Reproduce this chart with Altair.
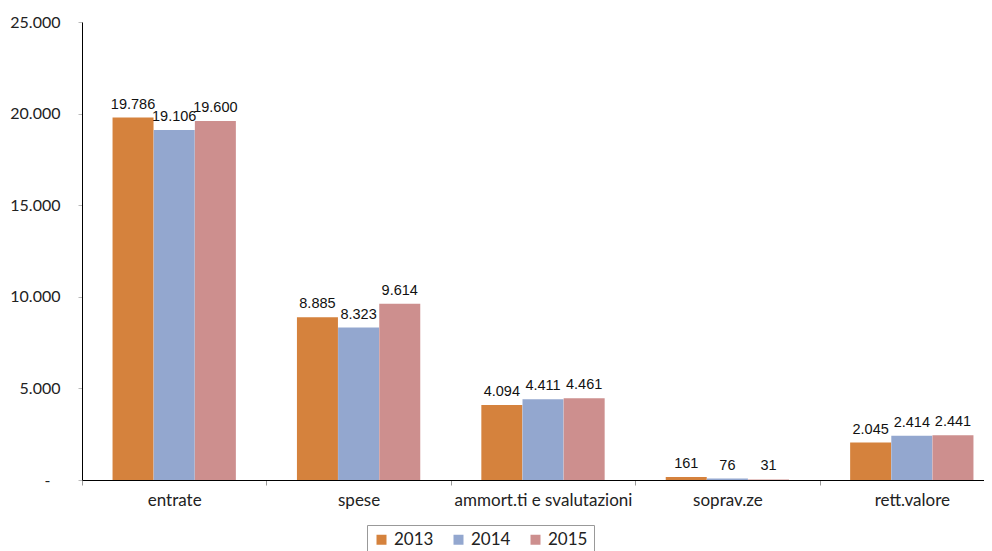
import altair as alt
import pandas as pd

categories = ["entrate", "spese", "ammort.ti e svalutazioni", "soprav.ze", "rett.valore"]
years = ["2013", "2014", "2015"]
v2013 = [19786, 8885, 4094, 161, 2045]
v2014 = [19106, 8323, 4411, 76, 2414]
v2015 = [19600, 9614, 4461, 31, 2441]
colors = ["#D5823D", "#93A7CF", "#CD8F8E"]

rows = []
for i, c in enumerate(categories):
    for y, vals in zip(years, [v2013, v2014, v2015]):
        rows.append({"cat": c, "year": y, "value": vals[i]})
df = pd.DataFrame(rows)

base = alt.Chart(df).transform_calculate(
    label="replace(format(datum.value, ','), ',', '.')"
).encode(
    x=alt.X("cat:N", sort=categories, title=None,
            scale=alt.Scale(paddingInner=0, paddingOuter=0, range=[0, 922]),
            axis=alt.Axis(labelAngle=0, tickBand="extent", domainColor="#000000",
                          tickColor="#999999", tickSize=5, labelPadding=7,
                          labelFont="Lato", labelFontSize=17, labelColor="#222222")),
    xOffset=alt.XOffset("year:N", scale=alt.Scale(paddingInner=0, paddingOuter=0.74)),
    y=alt.Y("value:Q", title=None,
            scale=alt.Scale(domain=[0, 25000], nice=False),
            axis=alt.Axis(values=[0, 5000, 10000, 15000, 20000, 25000], grid=False,
                          domainColor="#000000", tickColor="#bbbbbb", tickSize=4,
                          labelPadding={"condition": {"test": "datum.value == 0", "value": 28},
                                        "value": 18},
                          labelFont="Lato", labelFontSize=16,
                          labelColor="#222222",
                          labelExpr="datum.value == 0 ? '-' : replace(format(datum.value, ','), ',', '.')")),
)

bars = base.mark_bar(size=41).encode(
    color=alt.Color("year:N", scale=alt.Scale(domain=years, range=colors),
                    legend=alt.Legend(title=None, orient="none", direction="horizontal",
                                      legendX=285, legendY=503, strokeColor="#999999",
                                      padding=6, symbolType="square", symbolSize=100,
                                      symbolStrokeWidth=0, labelFont="Lato", labelFontSize=17,
                                      labelColor="#222222", columnPadding=16, labelOffset=4)),
)

texts = base.mark_text(baseline="bottom", dy=-6, font="Liberation Sans", fontSize=14.5,
                       color="#111111").encode(text="label:N")

chart = alt.layer(bars, texts).properties(
    width=902, height=458,
    autosize=alt.AutoSizeParams(type="none"),
    padding={"left": 74, "top": 14, "right": 0, "bottom": 71},
).configure_view(stroke=None)

chart.save("out.html", embed_options={"renderer": "svg", "actions": False})
